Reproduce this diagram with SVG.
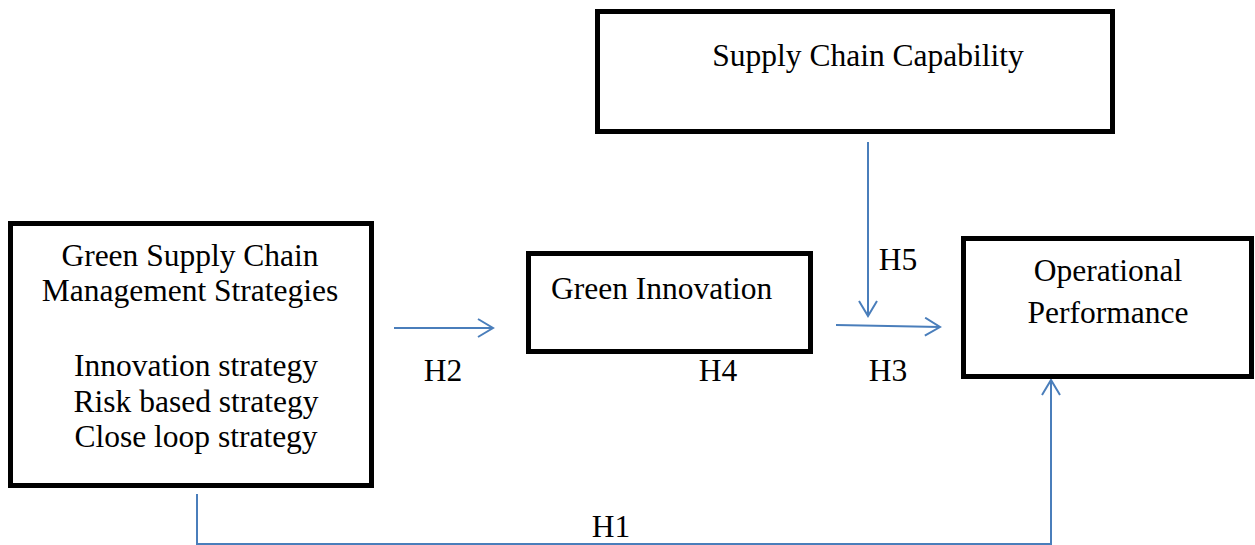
<svg xmlns="http://www.w3.org/2000/svg" width="1255" height="545" viewBox="0 0 1255 545">
<style>
.box{fill:#fff;stroke:#000;stroke-width:5}
.t{font-family:"Liberation Serif","Times New Roman",serif;font-size:31.5px;fill:#000}
.c{text-anchor:middle}
.ln{fill:none;stroke:#4a7ebb;stroke-width:2}
</style>
<defs>
<marker id="ah" viewBox="0 0 20 20" refX="18" refY="10" markerWidth="20" markerHeight="20" markerUnits="userSpaceOnUse" orient="auto">
<path d="M3,1 L18,10 L3,19" fill="none" stroke="#4a7ebb" stroke-width="2"/>
</marker>
</defs>
<g id="connectors">
<line class="ln" x1="394" y1="328" x2="493" y2="328" marker-end="url(#ah)"/>
<line class="ln" x1="836" y1="325" x2="940" y2="327" marker-end="url(#ah)"/>
<line class="ln" x1="868" y1="142" x2="868" y2="316" marker-end="url(#ah)"/>
<polyline class="ln" points="197,494 197,544 1051,544 1051,380" marker-end="url(#ah)"/>
</g>
<g id="capability">
<rect class="box" x="597.5" y="11.5" width="515" height="120"/>
<text class="t c" x="868" y="66">Supply Chain Capability</text>
</g>
<g id="gscm">
<rect class="box" x="10.5" y="223.5" width="361" height="262"/>
<text class="t c" x="190" y="266">Green Supply Chain</text>
<text class="t c" x="190" y="301">Management Strategies</text>
<text class="t c" x="196" y="376">Innovation strategy</text>
<text class="t c" x="196" y="412">Risk based strategy</text>
<text class="t c" x="196" y="447">Close loop strategy</text>
</g>
<g id="innovation">
<rect class="box" x="528.5" y="253.5" width="282" height="98"/>
<text class="t" x="551" y="299">Green Innovation</text>
</g>
<g id="performance">
<rect class="box" x="963.5" y="238.5" width="288" height="138"/>
<text class="t c" x="1108" y="281">Operational</text>
<text class="t c" x="1108" y="323">Performance</text>
</g>
<g id="labels">
<text class="t c" x="443" y="381">H2</text>
<text class="t c" x="718" y="381">H4</text>
<text class="t c" x="888" y="381">H3</text>
<text class="t c" x="898" y="270">H5</text>
<text class="t c" x="611" y="537">H1</text>
</g>
</svg>
